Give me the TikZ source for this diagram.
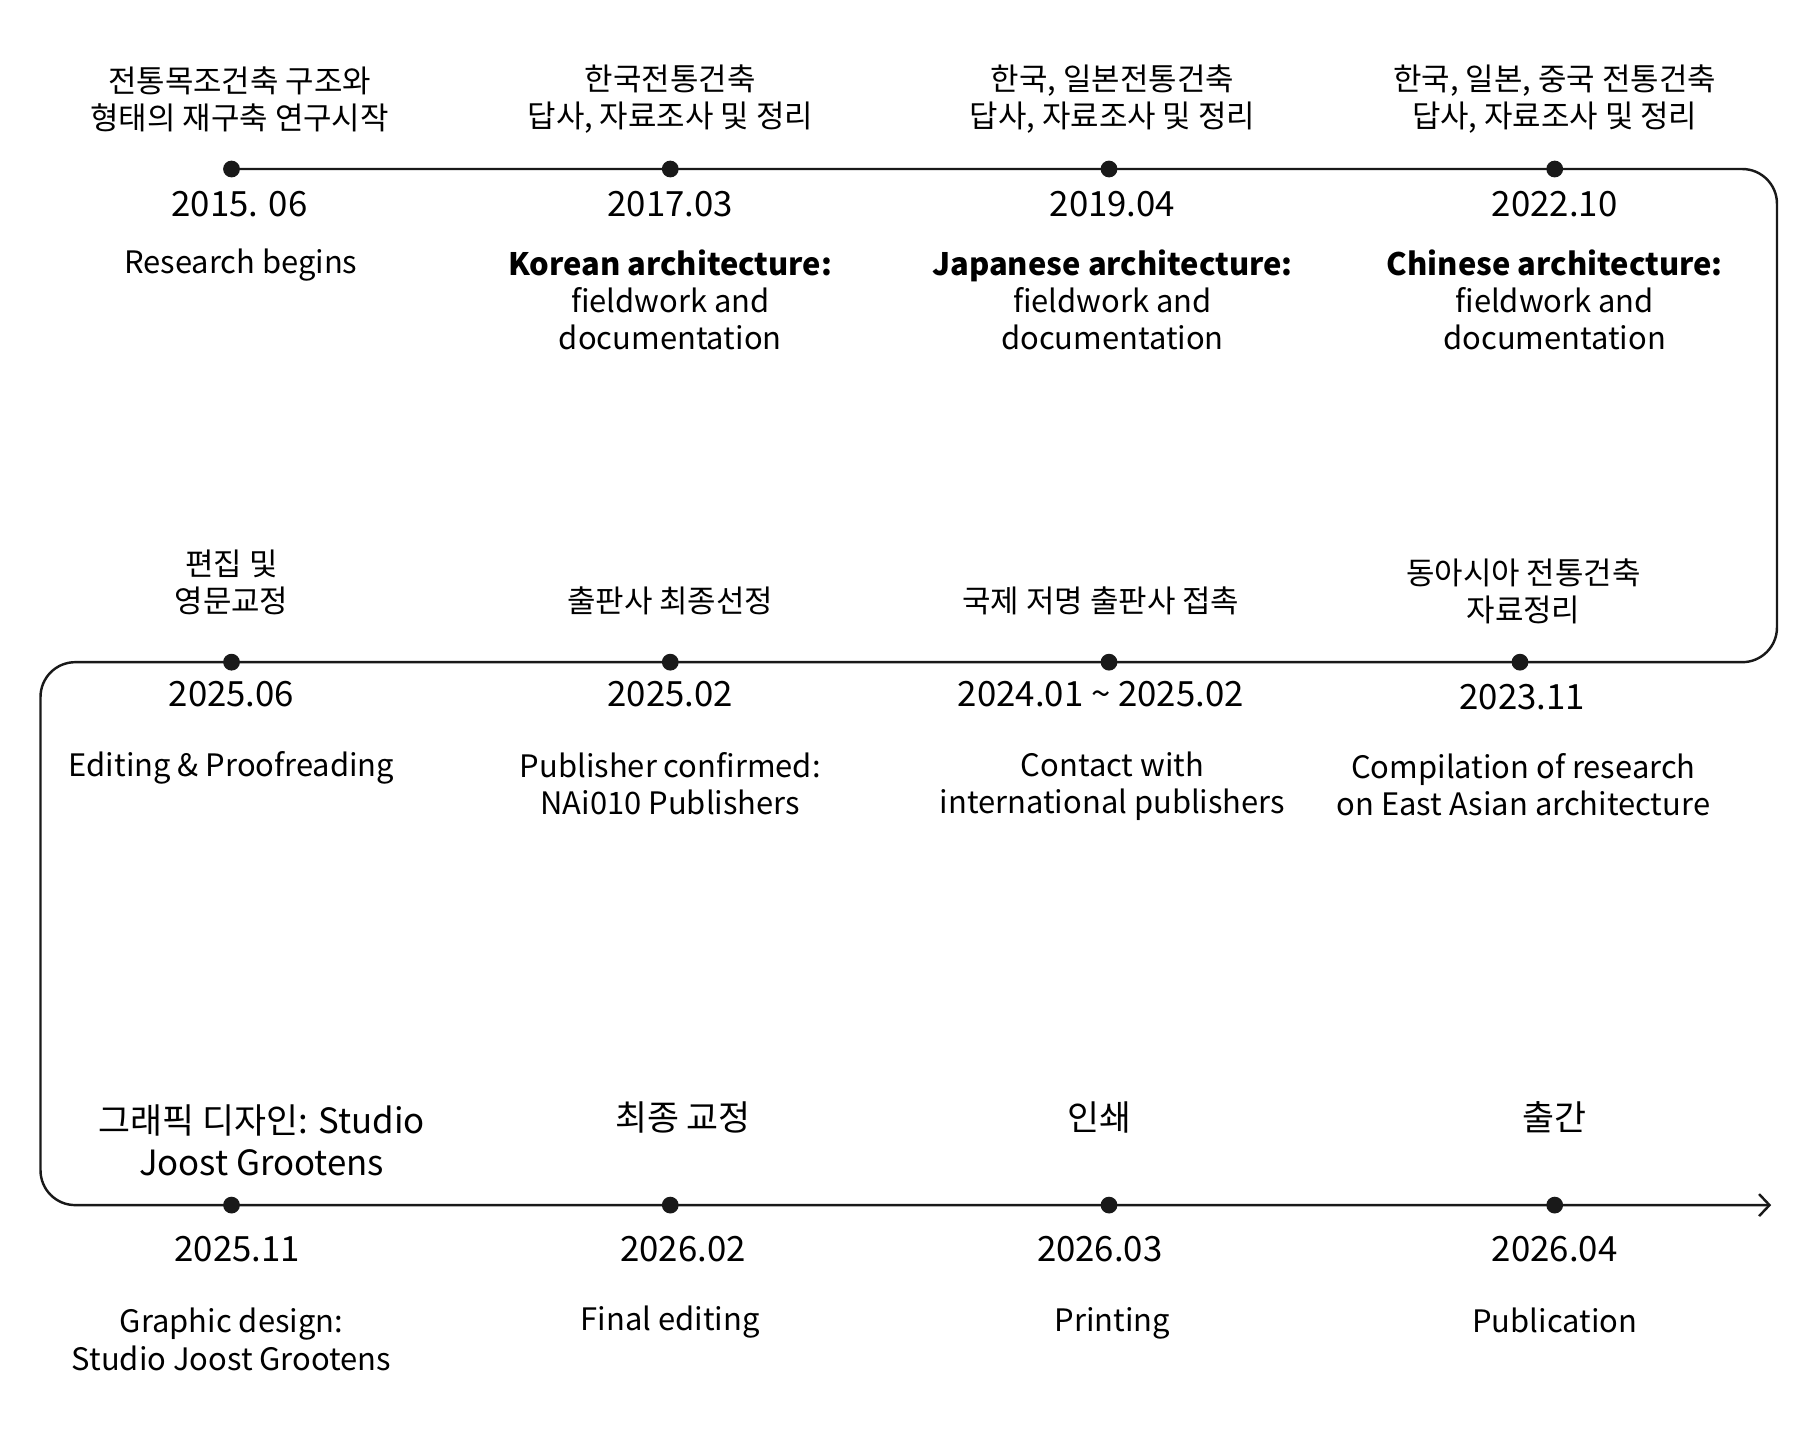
\documentclass[tikz,border=0pt]{standalone}
\usepackage{fontspec}
\setmainfont{Noto Sans CJK KR}
\definecolor{lineblack}{RGB}{25, 25, 25}
\usepackage{tikz}
\usetikzlibrary{arrows.meta, positioning}

\begin{document}
\begin{tikzpicture}[x=0.1mm, y=-0.1mm,
  dot/.style={circle, fill=lineblack, inner sep=0pt, minimum size=1.45mm},
  kor/.style={align=center, inner sep=0pt, font=\fontsize{7.6}{9.1}\selectfont},
  korbig/.style={align=center, inner sep=0pt, font=\fontsize{8.55}{10.3}\selectfont},
  datum/.style={inner sep=0pt, font=\fontsize{8.55}{11}\selectfont},
  eng/.style={align=center, inner sep=0pt, font=\fontsize{7.6}{9.2}\selectfont}]
  \useasboundingbox (0,0) rectangle (1567,1246.6);

  % points on the line
  \node[dot] (p1) at (200, 146) {};
  \node[dot] (p2) at (579, 146) {};
  \node[dot] (p3) at (958, 146) {};
  \node[dot] (p4) at (1343, 146) {};
  \node[dot] (p5) at (200, 572) {};
  \node[dot] (p6) at (579, 572) {};
  \node[dot] (p7) at (958, 572) {};
  \node[dot] (p8) at (1313, 572) {};
  \node[dot] (p9) at (200, 1041) {};
  \node[dot] (p10) at (579, 1041) {};
  \node[dot] (p11) at (958, 1041) {};
  \node[dot] (p12) at (1343, 1041) {};
  \coordinate (turnA) at (1535, 146);
  \coordinate (turnB) at (1535, 572);
  \coordinate (turnC) at (35, 572);
  \coordinate (turnD) at (35, 1041);
  \coordinate (lineend) at (1530, 1041);

  \draw[draw=lineblack, line width=0.6pt, rounded corners=3mm, -{Straight Barb[length=0.9mm, width=1.9mm]}]
    (p1.center) -- (p4.center) -- (turnA) -- (turnB) -- (p8.center) -- (p5.center) -- (turnC)
    -- (turnD) -- (p9.center) -- (p12.center) -- (lineend);

  % first row
  \node[kor] (k1) at (207, 86) {전통목조건축 구조와\\형태의 재구축 연구시작};
  \node[kor] (k2) at (579, 86) {한국전통건축\\답사, 자료조사 및 정리};
  \node[kor] (k3) at (961, 86) {한국, 일본전통건축\\답사, 자료조사 및 정리};
  \node[kor] (k4) at (1343, 86) {한국, 일본, 중국 전통건축\\답사, 자료조사 및 정리};
  \node[datum] (d1) at (207, 176) {2015. 06};
  \node[datum] (d2) at (579, 176) {2017.03};
  \node[datum] (d3) at (961, 176) {2019.04};
  \node[datum] (d4) at (1343, 176) {2022.10};
  \node[eng] (e1) at (208, 229) {Research begins};
  \node[eng] (e2) at (579, 259) {\textbf{Korean architecture:}\\fieldwork and\\documentation};
  \node[eng] (e3) at (961, 259) {\textbf{Japanese architecture:}\\fieldwork and\\documentation};
  \node[eng] (e4) at (1343, 259) {\textbf{Chinese architecture:}\\fieldwork and\\documentation};

  % second row
  \node[kor] (k5) at (200, 503) {편집 및\\영문교정};
  \node[kor] (k6) at (579, 519) {출판사 최종선정};
  \node[kor] (k7) at (951, 519) {국제 저명 출판사 접촉};
  \node[kor] (k8) at (1316, 511) {동아시아 전통건축\\자료정리};
  \node[datum] (d5) at (200, 600) {2025.06};
  \node[datum] (d6) at (579, 600) {2025.02};
  \node[datum] (d7) at (951, 600) {2024.01 \textasciitilde{} 2025.02};
  \node[datum] (d8) at (1315, 602) {2023.11};
  \node[eng] (e5) at (200, 663) {Editing \& Proofreading};
  \node[eng] (e6) at (579, 677) {Publisher confirmed:\\NAi010 Publishers};
  \node[eng] (e7) at (961, 679) {Contact with\\international publishers};
  \node[eng] (e8) at (1316, 678) {Compilation of research\\on East Asian architecture};

  % third row
  \node[korbig] (k9) at (226, 985) {그래픽 디자인: Studio\\Joost Grootens};
  \node[korbig] (k10) at (590, 965) {최종 교정};
  \node[korbig] (k11) at (950, 965) {인쇄};
  \node[korbig] (k12) at (1343, 965) {출간};
  \node[datum] (d9) at (205, 1079) {2025.11};
  \node[datum] (d10) at (590, 1079) {2026.02};
  \node[datum] (d11) at (950, 1079) {2026.03};
  \node[datum] (d12) at (1343, 1079) {2026.04};
  \node[eng] (e9) at (200, 1157) {Graphic design:\\Studio Joost Grootens};
  \node[eng] (e10) at (579, 1142) {Final editing};
  \node[eng] (e11) at (961, 1143) {Printing};
  \node[eng] (e12) at (1343, 1141) {Publication};
\end{tikzpicture}
\end{document}
